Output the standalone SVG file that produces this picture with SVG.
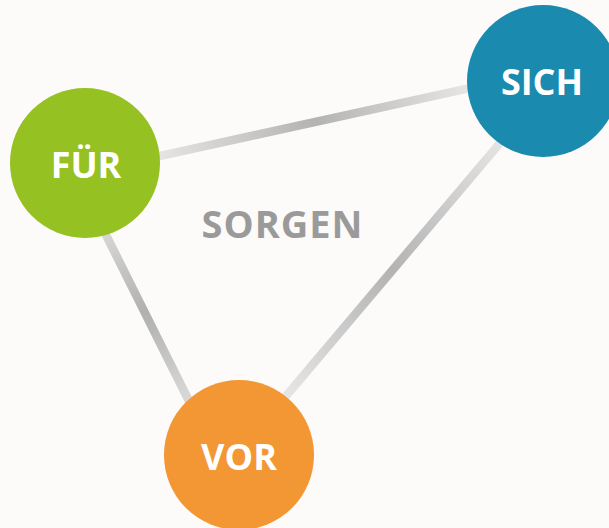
<svg xmlns="http://www.w3.org/2000/svg" width="609" height="528" viewBox="0 0 609 528">
<style>
.lbl{font-family:"Open Sans","Liberation Sans",sans-serif;font-weight:700;font-size:36px;fill:#ffffff;text-anchor:middle}
.title{font-family:"Open Sans","Liberation Sans",sans-serif;font-weight:700;font-size:38px;letter-spacing:1px;fill:#9b9a9a;text-anchor:middle}
.edge{stroke-width:8.5;fill:none}
</style>
<defs>
<linearGradient id="g1" gradientUnits="userSpaceOnUse" x1="160" y1="156" x2="470" y2="88">
<stop offset="0" stop-color="#e4e4e4"/><stop offset="0.5" stop-color="#b3b3b3"/><stop offset="1" stop-color="#e6e6e6"/>
</linearGradient>
<linearGradient id="g2" gradientUnits="userSpaceOnUse" x1="500" y1="143" x2="285" y2="397">
<stop offset="0" stop-color="#e4e4e4"/><stop offset="0.5" stop-color="#b3b3b3"/><stop offset="1" stop-color="#e6e6e6"/>
</linearGradient>
<linearGradient id="g3" gradientUnits="userSpaceOnUse" x1="105" y1="233" x2="185" y2="393">
<stop offset="0" stop-color="#d6d6d6"/><stop offset="0.5" stop-color="#b0b0b0"/><stop offset="1" stop-color="#d6d6d6"/>
</linearGradient>
</defs>
<rect width="609" height="528" fill="#fcfbf9"/>
<g id="connectors">
<line class="edge" stroke="url(#g1)" x1="140" y1="160.4" x2="490" y2="83.6"/>
<line class="edge" stroke="url(#g2)" x1="515" y1="125.3" x2="270" y2="414.9"/>
<line class="edge" stroke="url(#g3)" x1="97" y1="217" x2="195" y2="413"/>
</g>
<g id="node-fuer">
<circle cx="85" cy="163" r="75" fill="#95c122"/>
<text class="lbl" x="86" y="178">FÜR</text>
</g>
<g id="node-sich">
<circle cx="543" cy="81" r="76" fill="#1a8aae"/>
<text class="lbl" x="542" y="95">SICH</text>
</g>
<g id="node-vor">
<circle cx="239" cy="455" r="75" fill="#f39634"/>
<text class="lbl" x="239" y="470">VOR</text>
</g>
<g id="label-sorgen">
<text class="title" x="282.5" y="238">SORGEN</text>
</g>
</svg>
